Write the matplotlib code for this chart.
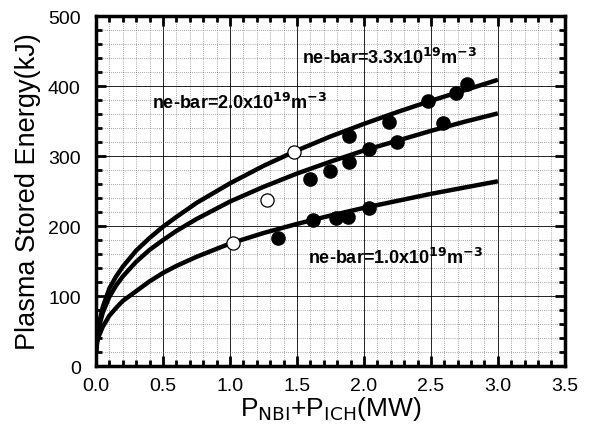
import matplotlib
matplotlib.use("Agg")
import matplotlib.pyplot as plt
from matplotlib.ticker import MultipleLocator

plt.rcParams['font.family'] = ['Liberation Sans', 'DejaVu Sans']

# fit curves, read at fixed heating powers (MW) -> stored energy (kJ)
curve_x = [0.0, 0.01, 0.02, 0.05, 0.1, 0.15, 0.2, 0.3, 0.4, 0.5, 0.6, 0.75,
           1.0, 1.25, 1.5, 1.75, 2.0, 2.25, 2.5, 2.75, 3.0]
curve_33 = [20, 45, 58, 84, 111, 128, 142, 165, 183, 199, 213, 233,
            261, 286, 308, 328, 346, 363, 379, 394, 409]
curve_20 = [20, 42, 54, 76, 99, 115, 128, 149, 166, 180, 193, 210,
            235, 256, 275, 292, 308, 322, 336, 349, 361]
curve_10 = [20, 35, 42, 56, 72, 83, 93, 107, 121, 133, 143, 156,
            175, 190, 203, 215, 226, 236, 246, 255, 264]

# measured points (filled) for each density
pts33_x = [1.89, 2.19, 2.48, 2.69, 2.77]
pts33_y = [329, 349, 379, 390, 403]
pts20_x = [1.60, 1.75, 1.89, 2.04, 2.25, 2.59]
pts20_y = [267, 279, 291, 310, 320, 347]
pts10_x = [1.36, 1.62, 1.79, 1.88, 2.04]
pts10_y = [183, 208, 211, 213, 226]

# open symbols
open_x = [1.48, 1.28, 1.02]
open_y = [306, 237, 176]

fig = plt.figure(figsize=(5.89, 4.39), dpi=100)
ax = fig.add_axes([0.163, 0.164, 0.796, 0.797])

for cy in (curve_33, curve_20, curve_10):
    ax.plot(curve_x, cy, color='black', lw=3.2, solid_capstyle='butt',
            solid_joinstyle='round', zorder=3)

for px, py in ((pts33_x, pts33_y), (pts20_x, pts20_y), (pts10_x, pts10_y)):
    ax.plot(px, py, 'o', color='black', markersize=9.5, zorder=4)
ax.plot(open_x, open_y, 'o', markerfacecolor='white', markeredgecolor='black',
        markeredgewidth=0.9, markersize=9.5, zorder=5)

lbl_kw = dict(fontsize=13, fontweight='bold', va='center', zorder=6)
ax.text(1.54, 441, r'ne-bar=3.3x10$^{\mathbf{19}}$m$^{\mathbf{-3}}$', **lbl_kw)
ax.text(0.42, 377, r'ne-bar=2.0x10$^{\mathbf{19}}$m$^{\mathbf{-3}}$', **lbl_kw)
ax.text(1.58, 156, r'ne-bar=1.0x10$^{\mathbf{19}}$m$^{\mathbf{-3}}$', **lbl_kw)

ax.set_xlim(0, 3.5)
ax.set_ylim(0, 500)
ax.xaxis.set_major_locator(MultipleLocator(0.5))
ax.xaxis.set_minor_locator(MultipleLocator(0.1))
ax.yaxis.set_major_locator(MultipleLocator(100))
ax.yaxis.set_minor_locator(MultipleLocator(20))
ax.set_xticklabels([f'{v:.1f}' for v in ax.get_xticks()])

ax.grid(which='major', color='black', lw=0.6)
ax.grid(which='minor', color='#555555', lw=0.5, ls=(0, (1, 2)))
ax.set_axisbelow(True)

ax.tick_params(which='both', direction='in', top=True, right=True, labelsize=14)
ax.tick_params(which='major', length=7, width=2)
ax.tick_params(which='minor', length=4, width=2)
ax.tick_params(axis='y', pad=11)
ax.tick_params(axis='x', pad=8)
for sp in ax.spines.values():
    sp.set_linewidth(2.5)

ax.set_xlabel(r'P$_{\mathrm{NBI}}$+P$_{\mathrm{ICH}}$(MW)', fontsize=19, labelpad=0)
ax.set_ylabel('Plasma Stored Energy(kJ)', fontsize=19.5)
ax.yaxis.set_label_coords(-0.118, 0.5)

fig.savefig('out.png', dpi=100)
